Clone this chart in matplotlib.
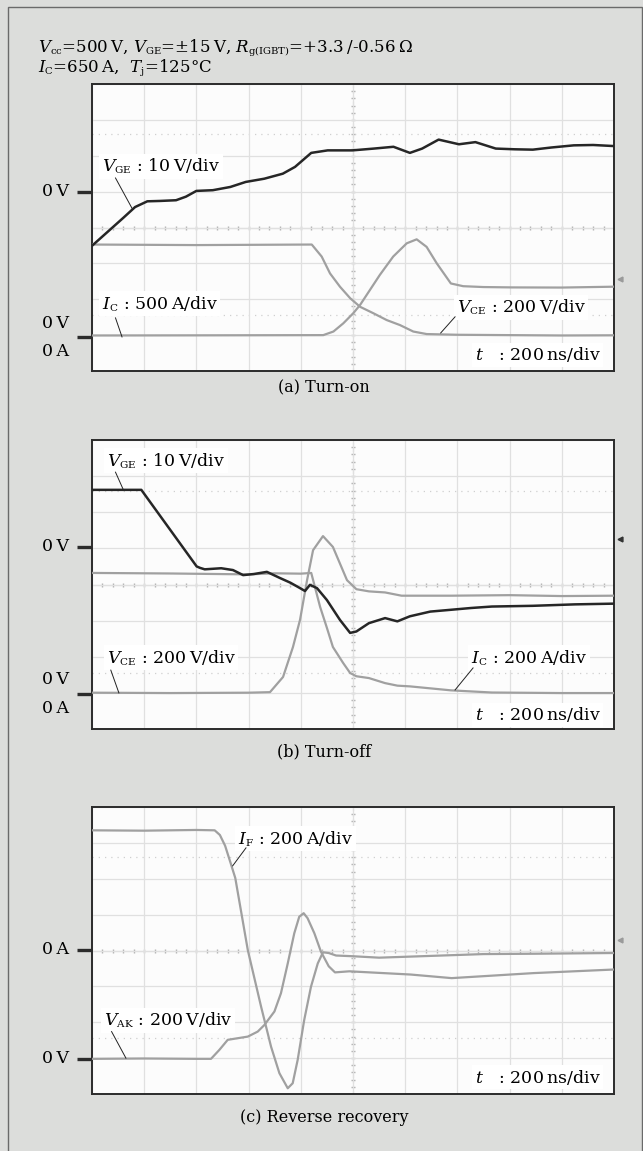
import numpy as np
import matplotlib
matplotlib.use("Agg")
import matplotlib.pyplot as plt
from matplotlib.patches import Rectangle
import matplotlib._mathtext as _mt

_mt.SHRINK_FACTOR = 0.6

plt.rcParams['font.family'] = ['DejaVu Serif']
plt.rcParams['mathtext.fontset'] = 'dejavuserif'

# ---------------- data (time in ns, values in physical units) ----------------
# (a) Turn-on
a_vge_t = [0, 60, 120, 165, 212, 260, 322, 360, 400, 463, 530, 589, 660, 731, 778, 840, 903, 998,
           1080, 1155, 1218, 1265, 1328, 1370, 1406, 1469, 1547, 1620, 1689, 1760, 1846, 1920, 2000]
a_vge_v = [-15.1, -11.2, -7.3, -4.3, -2.7, -2.6, -2.4, -1.4, 0.2, 0.4, 1.3, 2.7, 3.6, 5.0, 6.9, 10.8, 11.5, 11.5,
           12.0, 12.5, 10.8, 12.0, 14.5, 13.8, 13.2, 13.8, 12.0, 11.8, 11.7, 12.3, 12.9, 13.0, 12.7]
a_vce_t = [0, 400, 842, 880, 912, 950, 989, 1027, 1078, 1129, 1180, 1231, 1282, 1400, 1600, 1800, 2000]
a_vce_v = [515, 512, 515, 448, 354, 280, 216, 168, 132, 94, 66, 30, 16, 12, 10, 8, 9]
a_ic_t = [0, 400, 886, 925, 963, 1001, 1027, 1065, 1103, 1154, 1206, 1244, 1282, 1321, 1375, 1422,
          1500, 1610, 1800, 2000]
a_ic_a = [20, 22, 25, 75, 190, 330, 445, 655, 865, 1120, 1305, 1360, 1255, 1025, 745, 707,
          695, 690, 688, 700]

# (b) Turn-off
b_vge_t = [0, 100, 189, 250, 300, 350, 401, 414, 432, 495, 540, 579, 620, 670, 720, 760, 797, 816, 835,
           862, 900, 950, 989, 1013, 1061, 1123, 1170, 1218, 1296, 1375, 1453, 1532, 1689, 1850, 2000]
b_vge_v = [15.7, 15.7, 15.7, 9.6, 4.6, -0.4, -5.5, -5.9, -6.3, -6.0, -6.5, -7.9, -7.6, -7.0, -8.7, -10.0,
           -11.5, -12.3, -10.6, -11.5, -14.8, -20.3, -23.9, -23.5, -21.2, -19.8, -20.7, -19.3, -18.0,
           -17.5, -17.0, -16.6, -16.4, -16.0, -15.8]
b_vce_t = [0, 300, 600, 682, 732, 770, 797, 824, 847, 885, 923, 977, 1013, 1061, 1123, 1186, 1375,
           1600, 1800, 2000]
b_vce_v = [5, 3, 5, 8, 92, 258, 408, 628, 794, 872, 812, 628, 578, 566, 560, 542, 542, 545, 540, 542]
b_ic_t = [0, 300, 600, 700, 800, 840, 874, 900, 923, 962, 989, 1013, 1061, 1123, 1170, 1218, 1375,
          1532, 1800, 2000]
b_ic_a = [668, 665, 660, 666, 664, 668, 480, 364, 258, 170, 114, 96, 86, 58, 44, 40, 18, 6, 3, 3]

# (c) Reverse recovery
c_if_t = [0, 200, 400, 470, 490, 510, 531, 549, 597, 648, 686, 718, 750, 769, 788, 813, 839, 865, 885,
          907, 935, 1000, 1100, 1300, 1500, 1700, 2000]
c_if_a = [666, 664, 668, 666, 640, 580, 484, 400, -2, -318, -540, -688, -772, -744, -614, -392, -206,
          -76, -14, -18, -32, -36, -44, -34, -24, -22, -18]
c_vak_t = [0, 200, 400, 456, 488, 520, 597, 635, 660, 699, 724, 750, 775, 794, 811, 826, 852, 877, 907,
           931, 986, 1064, 1221, 1378, 1535, 1692, 2000]
c_vak_v = [0, 2, 0, 0, 50, 106, 124, 152, 188, 264, 366, 532, 700, 792, 812, 784, 700, 598, 516, 482,
           488, 482, 470, 450, 464, 478, 498]

# ---------------- layout ----------------
W, H = 643, 1151
fig = plt.figure(figsize=(W / 100, H / 100), dpi=100)
BG = '#dcdddb'
fig.patch.set_facecolor(BG)

def fx(x):
    return x / W

def fy(y):
    return 1 - y / H

fig.patches.append(Rectangle((fx(8), fy(1160)), fx(641.5) - fx(8), fy(7) - fy(1160),
                             transform=fig.transFigure, fill=False, ec='#6a6a6a', lw=1.0))

DARK = '#262626'
GRAY = '#a0a0a0'
FS = 12.5
TS = '\u2009'

def make_axes(top, bottom):
    ax = fig.add_axes([fx(92), fy(bottom), fx(614) - fx(92), fy(top) - fy(bottom)])
    ax.set_facecolor('#fcfcfc')
    ax.set_xlim(0, 2000)
    ax.set_ylim(0, 8)
    ax.set_xticks(np.arange(0, 2001, 200))
    ax.set_yticks(np.arange(0, 9, 1))
    ax.grid(True, color='#e0e0e0', lw=0.9)
    ax.tick_params(length=0, labelbottom=False, labelleft=False)
    for s in ax.spines.values():
        s.set_color('#2b2b2b')
        s.set_linewidth(1.4)
    ax.axhline(4, color='#b4b4b4', lw=0.8, zorder=1)
    ax.axvline(1000, color='#b4b4b4', lw=0.8, ls=(0, (3, 2)), zorder=1)
    xt = np.arange(40, 2000, 40)
    ax.plot(xt, np.full(len(xt), 4.0), '|', ms=3, color='#b4b4b4', zorder=1)
    yt = np.arange(0.2, 8, 0.2)
    ax.plot(np.full(len(yt), 1000.0), yt, '_', ms=3, color='#b4b4b4', zorder=1)
    for lvl in (1.55, 6.6):
        ax.axhline(lvl, color='#cfcfcf', lw=0.9, ls=(0, (1, 4)), zorder=1)
    return ax

def zero_marker(ax, lvl, labels):
    ax.plot([-0.028, 0.0], [lvl, lvl], color='#2b2b2b', lw=2.4, clip_on=False,
            transform=ax.get_yaxis_transform(), solid_capstyle='butt')
    if len(labels) == 1:
        ax.text(-0.045, lvl, labels[0], transform=ax.get_yaxis_transform(), ha='right',
                va='center', fontsize=FS)
    else:
        ax.text(-0.045, lvl + 0.38, labels[0], transform=ax.get_yaxis_transform(), ha='right',
                va='center', fontsize=FS)
        ax.text(-0.045, lvl - 0.42, labels[1], transform=ax.get_yaxis_transform(), ha='right',
                va='center', fontsize=FS)

def trace(ax, t, v, zero, scale, color, lw=1.6, z=3):
    d = zero + np.asarray(v, dtype=float) / scale
    ax.plot(t, d, color=color, lw=lw, zorder=z, solid_joinstyle='round')

def label(ax, text, xy_text, xy_pt=None, lead_from=None):
    ax.text(xy_text[0], xy_text[1], text, fontsize=FS, ha='left', va='center', zorder=6,
            bbox=dict(boxstyle='square,pad=0.15', fc='white', ec='none'))
    if xy_pt is not None:
        ax.plot([lead_from[0], xy_pt[0]], [lead_from[1], xy_pt[1]], color='#222222', lw=0.7, zorder=7)

def trig(ax, lvl, color):
    ax.plot([1.012], [lvl], marker='<', ms=3.5, color=color, clip_on=False,
            transform=ax.get_yaxis_transform())

# ---- title ----
TFS = 12
fig.text(fx(38), fy(52), r'$V_{\mathrm{cc}}$=500' + TS + r'V, $V_{\mathrm{GE}}$=±15' + TS +
         r'V, $R_{\mathrm{g(IGBT)}}$=+3.3' + TS + '/-0.56' + TS + 'Ω',
         fontsize=TFS, ha='left', va='baseline')
fig.text(fx(38), fy(72), r'$I_{\mathrm{C}}$=650' + TS + r'A,  $T_{\mathrm{j}}$=125°C',
         fontsize=TFS, ha='left', va='baseline')

# ---- (a) ----
ax = make_axes(84, 371)
trace(ax, a_vce_t, a_vce_v, 0.95, 200, GRAY)
trace(ax, a_ic_t, a_ic_a, 0.95, 500, GRAY)
trace(ax, a_vge_t, a_vge_v, 5.0, 10, DARK, lw=1.8, z=4)
zero_marker(ax, 5.0, ['0' + TS + 'V'])
zero_marker(ax, 0.95, ['0' + TS + 'V', '0' + TS + 'A'])
label(ax, r'$V_{\mathrm{GE}}$ : 10' + TS + 'V/div', (38, 5.71), (153, 4.54), (90, 5.38))
label(ax, r'$I_{\mathrm{C}}$ : 500' + TS + 'A/div', (38, 1.87), (115, 0.95), (90, 1.48))
label(ax, r'$V_{\mathrm{CE}}$ : 200' + TS + 'V/div', (1398, 1.78), (1336, 1.06), (1391, 1.51))
label(ax, r'$t$   : 200' + TS + 'ns/div', (1467, 0.45))
trig(ax, 2.56, '#9a9a9a')
fig.text(fx(324), fy(388), '(a) Turn-on', fontsize=11.5, ha='center', va='center')

# ---- (b) ----
ax = make_axes(440, 729)
trace(ax, b_vce_t, b_vce_v, 0.98, 200, GRAY)
trace(ax, b_ic_t, b_ic_a, 0.98, 200, GRAY)
trace(ax, b_vge_t, b_vge_v, 5.05, 10, DARK, lw=1.8, z=4)
zero_marker(ax, 5.05, ['0' + TS + 'V'])
zero_marker(ax, 0.98, ['0' + TS + 'V', '0' + TS + 'A'])
label(ax, r'$V_{\mathrm{GE}}$ : 10' + TS + 'V/div', (57, 7.42), (119, 6.64), (90, 7.11))
label(ax, r'$V_{\mathrm{CE}}$ : 200' + TS + 'V/div', (57, 1.97), (103, 1.0), (72, 1.63))
label(ax, r'$I_{\mathrm{C}}$ : 200' + TS + 'A/div', (1452, 1.97), (1391, 1.08), (1460, 1.69))
label(ax, r'$t$   : 200' + TS + 'ns/div', (1467, 0.39))
trig(ax, 5.26, '#333333')
fig.text(fx(324), fy(752), '(b) Turn-off', fontsize=11.5, ha='center', va='center')

# ---- (c) ----
ax = make_axes(807, 1094)
trace(ax, c_vak_t, c_vak_v, 0.98, 200, GRAY)
trace(ax, c_if_t, c_if_a, 4.02, 200, GRAY)
zero_marker(ax, 4.02, ['0' + TS + 'A'])
zero_marker(ax, 0.98, ['0' + TS + 'V'])
label(ax, r'$I_{\mathrm{F}}$ : 200' + TS + 'A/div', (559, 7.11), (539, 6.36), (590, 6.86))
label(ax, r'$V_{\mathrm{AK}}$ : 200' + TS + 'V/div', (46, 2.06), (130, 1.0), (75, 1.74))
label(ax, r'$t$   : 200' + TS + 'ns/div', (1467, 0.47))
trig(ax, 4.29, '#9a9a9a')
fig.text(fx(324), fy(1118), '(c) Reverse recovery', fontsize=11.5, ha='center', va='center')

fig.savefig('out.png', dpi=100, facecolor=BG)
